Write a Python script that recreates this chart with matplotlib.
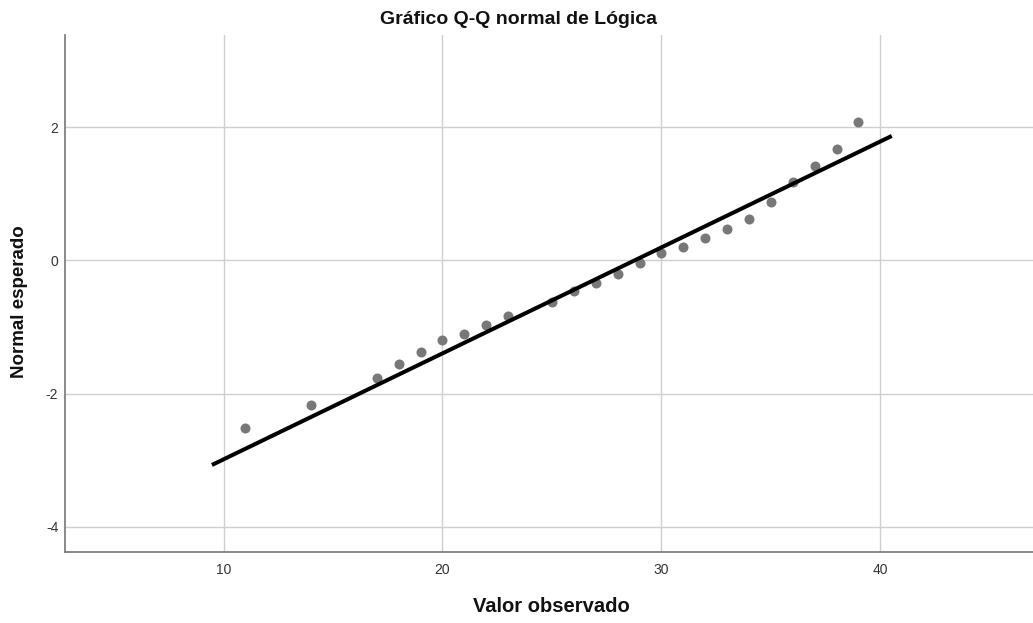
import matplotlib
matplotlib.use("Agg")
import matplotlib.pyplot as plt

plt.rcParams['font.family'] = ['Liberation Sans', 'DejaVu Sans']
plt.rcParams['axes.unicode_minus'] = False

# Data
observed = [11, 14, 17, 18, 19, 20, 21, 22, 23, 25, 26, 27, 28, 29, 30,
            31, 32, 33, 34, 35, 36, 37, 38, 39]
expected = [-2.51, -2.17, -1.76, -1.55, -1.37, -1.20, -1.11, -0.97, -0.83,
            -0.63, -0.46, -0.345, -0.205, -0.04, 0.105, 0.205, 0.345, 0.48,
            0.62, 0.88, 1.18, 1.42, 1.67, 2.08]
line_x = [9.47, 40.52]
line_y = [-3.07, 1.87]
xticks = [10, 20, 30, 40]
yticks = [-4, -2, 0, 2]

title = "Gráfico Q-Q normal de Lógica"
xlabel = "Valor observado"
ylabel = "Normal esperado"

fig = plt.figure(figsize=(10.33, 6.23), dpi=100)
ax = fig.add_axes([0.0632, 0.114, 1 - 0.0632, 0.9438 - 0.114])

ax.set_xlim(2.774, 46.97)
ax.set_ylim(-4.376, 3.385)
ax.set_xticks(xticks)
ax.set_yticks(yticks)
ax.grid(True, color='#cfcfcf', linewidth=1.0)
ax.set_axisbelow(True)

ax.scatter(observed, expected, s=52, color='#787878', zorder=3, linewidths=0)
ax.plot(line_x, line_y, color='black', linewidth=2.9, zorder=4,
        solid_capstyle='butt')

for s in ['top', 'right']:
    ax.spines[s].set_visible(False)
for s in ['left', 'bottom']:
    ax.spines[s].set_color('#808080')
    ax.spines[s].set_linewidth(1.3)

ax.tick_params(axis='both', length=0, labelsize=10, labelcolor='#333333')
ax.tick_params(axis='x', pad=8)
ax.tick_params(axis='y', pad=5)

fig.text(0.502, 1 - 19 / 623, title, ha='center', va='center', fontsize=14,
         fontweight='bold', color='#111111')
fig.text(551 / 1033, 1 - 607 / 623, xlabel, ha='center', va='center',
         fontsize=14.5, fontweight='bold', color='#111111')
fig.text(19.5 / 1033, 1 - 302 / 623, ylabel, ha='center', va='center',
         rotation=90, fontsize=13.5, fontweight='bold', color='#111111')

fig.savefig('out.png', dpi=100)
